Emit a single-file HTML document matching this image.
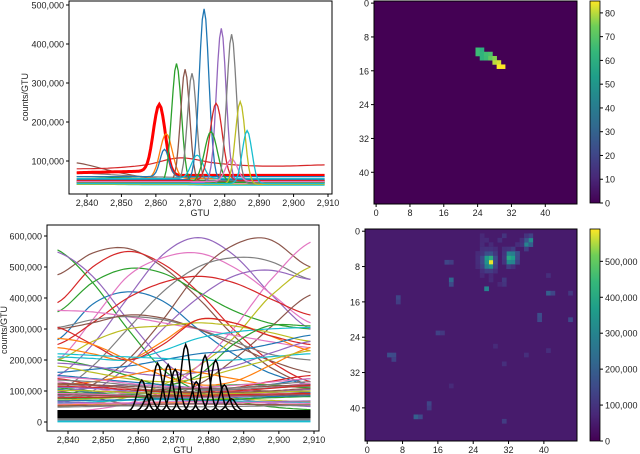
<!DOCTYPE html>
<html><head><meta charset="utf-8"><style>
body{margin:0;background:#fff}
svg{display:block;font-family:"Liberation Sans","DejaVu Sans",sans-serif}
text{fill:#222;font-size:9px}
</style></head><body>
<svg id="fig" width="640" height="454" viewBox="0 0 640 454" xmlns="http://www.w3.org/2000/svg">
<defs>
<clipPath id="c1"><rect x="69" y="1" width="263" height="193"/></clipPath>
<clipPath id="c2"><rect x="47" y="225" width="272" height="206"/></clipPath>
<linearGradient id="vir" x1="0" y1="1" x2="0" y2="0">
<stop offset="0" stop-color="#440154"/><stop offset="0.125" stop-color="#482878"/><stop offset="0.25" stop-color="#3e4989"/><stop offset="0.375" stop-color="#31688e"/><stop offset="0.5" stop-color="#26828e"/><stop offset="0.625" stop-color="#1f9e89"/><stop offset="0.75" stop-color="#35b779"/><stop offset="0.875" stop-color="#6ece58"/><stop offset="1" stop-color="#fde725"/>
</linearGradient>
</defs>
<g id="p1"></g>
<g id="p2"></g>
<g id="h1"></g>
<g id="h2"></g>
</svg>
<script>
// ---- top-left chart data (peaked light curves) ----
const topCenters  = [2861, 2863, 2862.5, 2866, 2868.5, 2870.5, 2874, 2872, 2879, 2877.5, 2876, 2882, 2882, 2884.5, 2886.5];
const topPeaks    = [245000,170000,130000,350000,335000,325000,490000,115000,440000,248000,175000,425000,105000,252000,178000];
const topBases    = [70000, 55000, 60000, 45000, 48000, 50000, 52000, 55000, 45000, 50000, 45000, 42000, 47000, 40000, 42000];
const topWidths   = [1.7, 1.8, 1.3, 1.4, 1.3, 1.3, 1.4, 1.7, 1.4, 1.8, 1.9, 1.4, 1.7, 1.4, 1.4];
const topColors   = ["#ff0000","#ff7f0e","#1f77b4","#2ca02c","#8c564b","#7f7f7f","#1f77b4","#17becf","#9467bd","#d62728","#2ca02c","#7f7f7f","#e377c2","#bcbd22","#17becf"];
const topFlatKnots = [2837, 2847, 2857, 2867, 2877, 2887, 2897, 2909];
const topFlatVals = [
 [95000,75000,58000,52000,50000,48000,47000,46000],
 [80000,82000,90000,108000,95000,88000,87000,90000],
 [70000,65000,60000,58000,55000,52000,50000,50000],
 [60000,58000,55000,52000,50000,48000,47000,46000],
 [50000,48000,46000,45000,44000,43000,42000,42000],
 [45000,44000,43000,42000,41000,40000,40000,40000],
 [40000,40000,39000,39000,38000,38000,38000,38000]
];
const topFlatColors = ["#8c564b","#d62728","#7f7f7f","#2ca02c","#e377c2","#bcbd22","#17becf"];
const topYTicks = [100000,200000,300000,400000,500000];
const xTicks = [2840,2850,2860,2870,2880,2890,2900,2910];

// ---- bottom-left chart data ----
const botKnots = [2837, 2847, 2857, 2867, 2877, 2887, 2897, 2909];
const botCurves = [
 [475,545,560,500,400,280,180,120],[385,500,550,510,420,300,200,130],[555,450,300,170,100,70,50,40],
 [548,470,330,200,120,80,60,50],[355,450,495,480,420,360,320,300],[265,380,420,390,300,220,160,120],
 [150,250,400,540,595,540,420,300],[200,330,470,530,545,500,420,320],[80,120,200,330,480,570,590,500],
 [100,180,300,420,500,530,520,460],[60,100,180,300,400,470,490,460],[50,60,80,120,180,270,400,500],
 [30,40,60,100,180,300,450,580],[250,320,400,450,470,450,400,345],[100,80,60,80,120,200,300,410],
 [360,355,340,320,300,280,260,240],[305,330,340,330,300,260,220,200],[300,320,345,335,300,250,200,160],
 [200,260,300,310,320,310,290,260],[240,220,200,260,330,320,280,230],[210,205,200,230,270,290,300,305],
 [305,250,200,250,330,320,280,250],[200,180,150,120,150,250,310,310],[160,170,180,200,220,230,250,280],
 [190,180,160,150,160,180,220,260],[270,250,200,150,120,130,180,240],[220,215,210,205,200,200,210,220],
 [180,160,140,130,140,170,200,230],[150,140,130,120,110,110,120,140],[120,130,150,170,160,140,120,110],
 [110,100,95,100,110,120,120,110],[140,120,100,90,95,110,130,150],[100,110,120,115,105,100,95,100],
 [90,95,100,105,110,105,100,95],[130,110,90,80,85,95,110,125],[80,85,90,95,100,105,110,115],
 [70,75,80,85,80,75,70,65],[60,65,70,72,70,68,65,62],[105,95,85,75,70,72,80,95],[55,58,60,62,60,58,56,55],
 [125,120,115,110,108,110,115,120],[115,112,105,98,95,100,108,118],[95,92,88,85,88,92,96,100],
 [85,88,82,78,80,86,90,92],[75,78,80,76,72,74,78,82],[68,70,72,75,78,80,82,85],[65,62,60,58,60,62,65,68],
 [58,60,62,65,66,64,62,60],[52,54,55,57,58,57,56,55],[48,50,52,50,49,50,52,54],[112,108,100,92,88,90,96,105],
 [102,100,96,92,90,92,96,100],[92,90,86,82,80,82,86,90],[78,80,82,84,86,88,90,92],[120,118,110,100,95,96,100,108],
 [145,138,125,115,112,118,128,140],[135,130,120,110,105,110,120,130],[88,86,84,82,82,84,86,88]
];
const botColors = ["#8c564b","#d62728","#2ca02c","#9467bd","#2ca02c","#1f77b4","#9467bd","#e377c2","#8c564b","#7f7f7f","#9467bd","#bcbd22","#e377c2","#d62728","#8c564b","#e377c2","#7f7f7f","#8c564b","#bcbd22","#ff7f0e","#17becf","#d62728","#2ca02c","#1f77b4","#9467bd","#ff7f0e","#17becf","#bcbd22","#1f77b4","#ff7f0e","#2ca02c","#d62728","#9467bd","#8c564b","#e377c2","#7f7f7f","#bcbd22","#17becf","#1f77b4","#ff7f0e"];
const blackCenters = [2861, 2863, 2865.5, 2868.5, 2870.5, 2873.5, 2876.5, 2879, 2882, 2884.5, 2886.5];
const blackPeaks   = [135000, 90000, 190000, 185000, 170000, 250000, 130000, 215000, 200000, 120000, 75000];
const botYTicks = [0,100000,200000,300000,400000,500000,600000];

// ---- heatmap data ----
const hm1Cells = [[11,24,65],[11,25,60],[12,24,65],[12,25,62],[12,26,66],[12,27,68],[13,25,62],[13,26,65],[13,27,72],[13,28,76],[14,28,80],[14,29,82],[15,29,85],[15,30,85]];
const hm1Max = 85;
const hm1Ticks = [0,10,20,30,40,50,60,70,80];
const hm2Background = 50000;
const hm2Cells = [
 [7,28,580000],[6,28,420000],[6,27,360000],[7,27,340000],[8,27,280000],[8,28,330000],[5,27,160000],[5,28,170000],[6,26,150000],[7,26,150000],[8,26,130000],[6,29,160000],[7,29,150000],[8,29,130000],[9,27,120000],[9,28,120000],
 [6,32,400000],[6,33,370000],[7,32,320000],[7,33,300000],[5,32,300000],[5,33,280000],[5,34,160000],[6,34,150000],[7,34,130000],[8,32,120000],[4,33,120000],
 [3,36,300000],[2,37,320000],[2,36,180000],[3,37,200000],[1,37,130000],[4,36,120000],
 [13,27,300000],[11,19,220000],[12,19,150000],[7,18,140000],[7,19,120000],[15,7,140000],[16,7,120000],[28,5,160000],[28,6,150000],[29,6,130000],
 [42,11,200000],[42,12,150000],[14,41,200000],[14,42,140000],[19,39,160000],[20,39,150000],[20,46,150000],[23,16,130000],[23,17,110000],[39,14,140000],[40,14,120000],
 [11,31,110000],[12,31,100000],[14,46,110000],[30,31,90000],[43,31,120000],[28,36,90000],[27,41,90000],[26,29,80000],[10,41,90000],[35,19,80000],[2,30,90000],[1,31,100000],
 [4,26,90000],[4,27,95000],[4,28,95000],[4,29,85000],[5,26,100000],[5,29,110000],[9,26,90000],[9,29,90000],[5,25,80000],[6,25,85000],[7,25,85000],[8,25,80000],
 [4,31,90000],[4,32,95000],[5,31,100000],[6,31,110000],[7,31,100000],[8,33,90000],[3,35,100000],[2,35,90000],[1,36,100000],[3,34,85000],
 [1,26,75000],[2,26,75000],[3,26,80000],[2,27,80000],[3,28,80000],[10,26,75000],[10,28,75000],[11,28,80000],[12,30,75000]
];
const hm2Max = 590000;
const hm2Ticks = [0,100000,200000,300000,400000,500000];

const NS="http://www.w3.org/2000/svg";
function el(tag, attrs, parent){const e=document.createElementNS(NS,tag);for(const k in attrs)e.setAttribute(k,attrs[k]);parent.appendChild(e);return e;}
function fmt(v){return v.toLocaleString('en-US');}
const VIR=[[68,1,84],[72,40,120],[62,73,137],[49,104,142],[38,130,142],[31,158,137],[53,183,121],[110,206,88],[253,231,37]];
function viridis(t){t=Math.max(0,Math.min(1,t));const s=t*8,i=Math.min(7,Math.floor(s)),f=s-i;const a=VIR[i],b=VIR[i+1];return `rgb(${a.map((v,k)=>Math.round(v+(b[k]-v)*f)).join(',')})`;}
function catmull(knots, vals, x){
  let i=0; while(i<knots.length-2 && x>knots[i+1]) i++;
  const p0=vals[Math.max(0,i-1)],p1=vals[i],p2=vals[i+1],p3=vals[Math.min(vals.length-1,i+2)];
  const t=(x-knots[i])/(knots[i+1]-knots[i]);
  return 0.5*((2*p1)+(-p0+p2)*t+(2*p0-5*p1+4*p2-p3)*t*t+(-p0+3*p1-3*p2+p3)*t*t*t);
}

// ===== top-left =====
(function(){
  const g=document.getElementById('p1');
  const X=v=>87+(v-2840)*241/70, Y=v=>161-(v-100000)*39/100000;
  const lines=el('g',{'clip-path':'url(#c1)'},g);
  
  
  topFlatVals.forEach((vals,j)=>{
    let d='';for(let x=2837;x<=2909;x+=1){d+=(d?'L':'M')+X(x).toFixed(1)+','+Y(catmull(topFlatKnots,vals,x)).toFixed(1);}
    const p=el('path',{d,fill:'none',stroke:topFlatColors[j],'stroke-width':1.2},lines);
    
    
  });
  topCenters.forEach((c,j)=>{
    let d='';
    for(let x=2837;x<=2909;x+=0.5){
      const base = j===0 ? (x<c ? topBases[j]+ (x-2837)*200 : 63000) : topBases[j];
      const v=base+(topPeaks[j]-base)*Math.exp(-0.5*Math.pow((x-c)/topWidths[j],2));
      d+=(d?'L':'M')+X(x).toFixed(1)+','+Y(v).toFixed(1);
    }
    const p=el('path',{d,fill:'none',stroke:topColors[j],'stroke-width':j===0?3:1.3},lines);
    
    
  });
  const ax=el('rect',{x:69,y:1,width:263,height:193,fill:'none',stroke:'#000','stroke-width':1},g);
  
  
  topYTicks.forEach(t=>{
    el('line',{x1:66,x2:69,y1:Y(t),y2:Y(t),stroke:'#000'},g);
    const tx=el('text',{x:64,y:Y(t)+3.5,'text-anchor':'end'},g);tx.textContent=fmt(t);
    
    
  });
  xTicks.forEach(t=>{
    el('line',{x1:X(t),x2:X(t),y1:194,y2:197,stroke:'#000'},g);
    const tx=el('text',{x:X(t),y:206,'text-anchor':'middle'},g);tx.textContent=fmt(t);
    
    
  });
  const xl=el('text',{x:200,y:216,'text-anchor':'middle'},g);xl.textContent='GTU';
  
  
  const yl=el('text',{x:0,y:0,'text-anchor':'middle',transform:'translate(28,97) rotate(-90)'},g);yl.textContent='counts/GTU';
  
  
})();

// ===== bottom-left =====
(function(){
  const g=document.getElementById('p2');
  const X=v=>68+(v-2840)*246/70, Y=v=>422-v*31/100000;
  const lines=el('g',{'clip-path':'url(#c2)'},g);
  
  
  [[5000,'#e377c2'],[2000,'#17becf'],[9000,'#7f7f7f']].forEach(([v,c])=>{
    const l=el('line',{x1:X(2837),x2:X(2909),y1:Y(v),y2:Y(v),stroke:c,'stroke-width':2},lines);
    
    
  });
  botCurves.forEach((vals,j)=>{
    let d='';for(let x=2837;x<=2909;x+=1){d+=(d?'L':'M')+X(x).toFixed(1)+','+Y(catmull(botKnots,vals,x)*1000).toFixed(1);}
    const p=el('path',{d,fill:'none',stroke:botColors[j%botColors.length],'stroke-width':1.2},lines);
    
    
  });
  const band=el('rect',{x:X(2837),y:Y(38000),width:X(2909)-X(2837),height:Y(12000)-Y(38000),fill:'#000'},lines);
  
  
  blackCenters.forEach((c,j)=>{
    let d='';for(let x=2837;x<=2909;x+=0.5){const v=35000+(blackPeaks[j]-35000)*Math.exp(-0.5*Math.pow((x-c)/1.3,2));d+=(d?'L':'M')+X(x).toFixed(1)+','+Y(v).toFixed(1);}
    const p=el('path',{d,fill:'none',stroke:'#000','stroke-width':1.5},lines);
    
    
  });
  const ax=el('rect',{x:47,y:225,width:272,height:206,fill:'none',stroke:'#000'},g);
  
  
  botYTicks.forEach(t=>{
    el('line',{x1:44,x2:47,y1:Y(t),y2:Y(t),stroke:'#000'},g);
    const tx=el('text',{x:42,y:Y(t)+3.5,'text-anchor':'end'},g);tx.textContent=fmt(t);
    
    
  });
  xTicks.forEach(t=>{
    el('line',{x1:X(t),x2:X(t),y1:431,y2:434,stroke:'#000'},g);
    const tx=el('text',{x:X(t),y:443,'text-anchor':'middle'},g);tx.textContent=fmt(t);
    
    
  });
  const xl=el('text',{x:183,y:453,'text-anchor':'middle'},g);xl.textContent='GTU';
  
  
  const yl=el('text',{x:0,y:0,'text-anchor':'middle',transform:'translate(7,330) rotate(-90)'},g);yl.textContent='counts/GTU';
  
  
})();

// ===== heatmaps =====
function heatmap(g, x0, y0, size, bg, cells, max, ticks, cbTop, cbBot, prefix){
  const cs=size/48;
  const bgr=el('rect',{x:x0,y:y0,width:size,height:size,fill:viridis(bg/max)},g);
  
  
  cells.forEach(([r,c,v])=>{
    const rc=el('rect',{x:x0+c*cs,y:y0+r*cs,width:cs+0.3,height:cs+0.3,fill:viridis(v/max)},g);
    
    
  });
  const fr=el('rect',{x:x0,y:y0,width:size,height:size,fill:'none',stroke:'#000'},g);
  
  
  [0,8,16,24,32,40].forEach(t=>{
    const p=x0+(t+0.5)*cs, q=y0+(t+0.5)*cs;
    el('line',{x1:p,x2:p,y1:y0+size,y2:y0+size+3,stroke:'#000'},g);
    el('line',{x1:x0-3,x2:x0,y1:q,y2:q,stroke:'#000'},g);
    const a=el('text',{x:p,y:y0+size+12,'text-anchor':'middle'},g);a.textContent=t;
    
    
    const b=el('text',{x:x0-5,y:q+3.5,'text-anchor':'end'},g);b.textContent=t;
    
    
  });
  const cb=el('rect',{x:590,y:cbTop,width:10,height:cbBot-cbTop,fill:'url(#vir)',stroke:'#000','stroke-width':0.8},g);
  
  
  ticks.forEach(t=>{
    const y=cbBot-(t/max)*(cbBot-cbTop);
    el('line',{x1:600,x2:603,y1:y,y2:y,stroke:'#000'},g);
    const tx=el('text',{x:605,y:y+3.5},g);tx.textContent=fmt(t);
    
    
  });
}
heatmap(document.getElementById('h1'),374,1,203,0,hm1Cells,hm1Max,hm1Ticks,1,203,'top-heatmap');
heatmap(document.getElementById('h2'),365,229,212,hm2Background,hm2Cells,hm2Max,hm2Ticks,229,441,'bottom-heatmap');
</script>
</body></html>
